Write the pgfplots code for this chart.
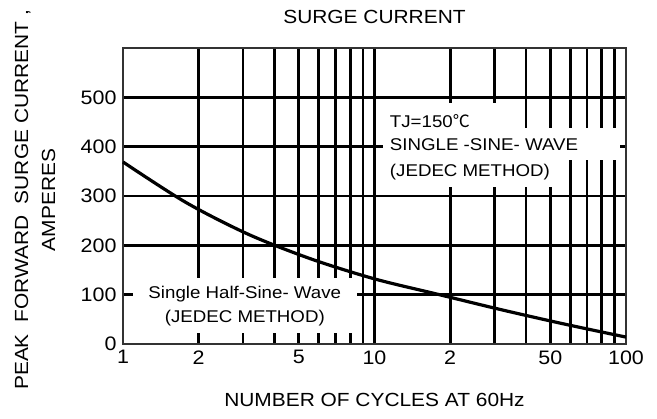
\documentclass[border=0pt]{standalone}
\usepackage{pgfplots}
\pgfplotsset{compat=1.18}
\usepackage{fontspec}
\setmainfont{Liberation Sans}[FakeStretch=1.1]
\newfontfamily\cjk{Noto Sans CJK SC}
\begin{document}
\begin{tikzpicture}
\begin{axis}[
  scale only axis, width=503bp, height=296bp,
  xmode=log, xmin=1, xmax=100, ymin=0, ymax=600,
  xtick={1,2,5,10,20,50,100}, xticklabels={1,2,5,10,2,50,100},
  minor xtick={3,4,6,7,8,9,30,40,60,70,80,90},
  ytick={0,100,200,300,400,500},
  grid=both,
  major grid style={black, line width=2.8bp},
  minor grid style={black, line width=2.8bp},
  axis line style={black!80, line width=1.6bp},
  tick style={draw=none},
  /pgf/number format/assume math mode=true,
  ticklabel style={font=\fontsize{19.5bp}{22bp}\selectfont},
  xticklabel style={yshift=-3bp},
  yticklabel style={xshift=-3bp},
  clip=false,
]
\fill[white] (axis cs:10.8,318) rectangle (axis cs:39.6,488);
\fill[white] (axis cs:10.8,373) rectangle (axis cs:94.9,438);
\fill[white] (axis cs:10.8,318) rectangle (axis cs:57,438);
\fill[white] (axis cs:1.096,22) rectangle (axis cs:8.52,134);
\addplot[black, line width=3.2bp, smooth] coordinates {
 (1,369) (1.778,287) (3.162,222) (5.623,172) (10,132)
 (17.78,101) (31.62,70) (56.23,41) (100,14)};
\node[anchor=base west, font=\fontsize{17bp}{20bp}\selectfont, inner sep=0pt] at (axis cs:11.5,438) {TJ=150{\cjk ℃}};
\node[anchor=base west, font=\fontsize{17bp}{20bp}\selectfont, inner sep=0pt] at (axis cs:11.5,393) {SINGLE -SINE- WAVE};
\node[anchor=base west, font=\fontsize{17bp}{20bp}\selectfont, inner sep=0pt] at (axis cs:11.5,340) {(JEDEC METHOD)};
\node[anchor=base, font=\fontsize{17bp}{20bp}\selectfont, inner sep=0pt] at (axis cs:3.05,93) {Single Half-Sine- Wave};
\node[anchor=base, font=\fontsize{17bp}{20bp}\selectfont, inner sep=0pt] at (axis cs:3.05,43) {(JEDEC METHOD)};
\end{axis}
\node[font=\fontsize{19bp}{22bp}\selectfont] at ([yshift=31bp]current axis.north) {SURGE CURRENT};
\node[font=\fontsize{19bp}{22bp}\selectfont] at ([yshift=-56bp]current axis.south) {NUMBER OF CYCLES AT 60Hz};
\node[rotate=90, align=center, font=\fontsize{19bp}{27bp}\selectfont] at ([xshift=-88bp,yshift=-4bp]current axis.west) {PEAK~~FORWARD~~SURGE CURRENT ,\\AMPERES};
\path ([shift={(-123bp,-75bp)}]current axis.south west) rectangle ([shift={(31bp,48bp)}]current axis.north east);
\end{tikzpicture}
\end{document}
